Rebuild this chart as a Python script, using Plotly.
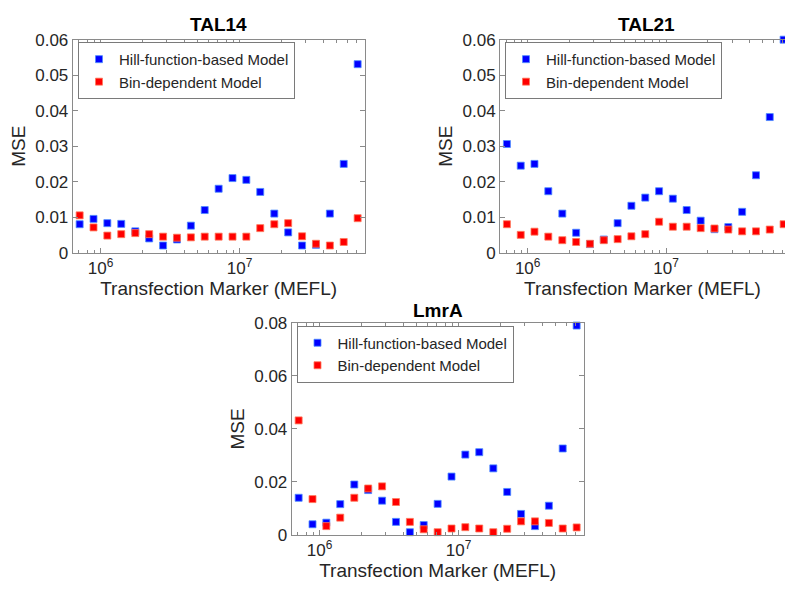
import plotly.graph_objects as go

# Bin centres of the transfection marker (MEFL), shared by all three panels
mefl = [7.08e5, 8.91e5, 1.12e6, 1.41e6, 1.78e6, 2.24e6, 2.82e6, 3.55e6, 4.47e6,
        5.62e6, 7.08e6, 8.91e6, 1.12e7, 1.41e7, 1.78e7, 2.24e7, 2.82e7, 3.55e7,
        4.47e7, 5.62e7, 7.08e7]

# TAL14
tal14_hill = [0.0080, 0.0095, 0.0083, 0.0081, 0.0060, 0.0040, 0.0020, 0.0037, 0.0076,
              0.0120, 0.0180, 0.0210, 0.0205, 0.0171, 0.0110, 0.0057, 0.0020, 0.0022,
              0.0110, 0.0250, 0.0531]
tal14_bin = [0.0105, 0.0071, 0.0048, 0.0052, 0.0055, 0.0052, 0.0045, 0.0042, 0.0043,
             0.0045, 0.0045, 0.0045, 0.0045, 0.0069, 0.0080, 0.0083, 0.0046, 0.0025,
             0.0020, 0.0030, 0.0097]

# TAL21
tal21_hill = [0.0306, 0.0245, 0.0250, 0.0173, 0.0110, 0.0056, 0.0024, 0.0037, 0.0083,
              0.0132, 0.0155, 0.0173, 0.0152, 0.0120, 0.0090, 0.0066, 0.0072, 0.0115,
              0.0218, 0.0382, 0.0600]
tal21_bin = [0.0080, 0.0050, 0.0059, 0.0045, 0.0035, 0.0030, 0.0025, 0.0035, 0.0038,
             0.0046, 0.0052, 0.0087, 0.0073, 0.0073, 0.0069, 0.0068, 0.0065, 0.0060,
             0.0060, 0.0065, 0.0080]

# LmrA
lmra_hill = [0.0140, 0.0040, 0.0046, 0.0116, 0.0190, 0.0169, 0.0129, 0.0049, 0.0010,
             0.0037, 0.0117, 0.0220, 0.0303, 0.0312, 0.0251, 0.0162, 0.0079, 0.0033,
             0.0110, 0.0326, 0.0790]
lmra_bin = [0.0432, 0.0135, 0.0033, 0.0065, 0.0140, 0.0175, 0.0183, 0.0124, 0.0049,
            0.0021, 0.0010, 0.0024, 0.0029, 0.0024, 0.0010, 0.0023, 0.0051, 0.0051,
            0.0045, 0.0024, 0.0028]

panel_titles = ["TAL14", "TAL21", "LmrA"]
series_names = ["Hill-function-based Model", "Bin-dependent Model"]

x_tickvals = [1e6, 1e7]
x_ticktext = ["10<sup>6</sup>", "10<sup>7</sup>"]
y_ticks_small = [0, 0.01, 0.02, 0.03, 0.04, 0.05, 0.06]
y_ticks_large = [0, 0.02, 0.04, 0.06, 0.08]

W, H = 785, 592
FONT = "Liberation Sans, Arial, Helvetica, sans-serif"
TEXT = "#262626"
AXIS = "#8a8a8a"
BLUE = "#0000ff"
RED = "#ff0000"


def px_x(p):
    return p / W


def px_y(p):
    return 1 - p / H


fig = go.Figure()

panels = [
    ("x", "y", "legend", tal14_hill, tal14_bin),
    ("x2", "y2", "legend2", tal21_hill, tal21_bin),
    ("x3", "y3", "legend3", lmra_hill, lmra_bin),
]
for xa, ya, lg, hill, binm in panels:
    for name, vals, col, edge in [(series_names[0], hill, BLUE, "#4d8dff"),
                                  (series_names[1], binm, RED, "#ff7a5c")]:
        fig.add_trace(go.Scatter(
            x=mefl, y=vals, mode="markers", name=name,
            xaxis=xa, yaxis=ya, legend=lg, cliponaxis=False,
            marker=dict(symbol="square", size=7, color=col,
                        line=dict(width=0.8, color=edge)),
        ))


def xaxis(domain, rng, anchor):
    return dict(
        type="log", domain=domain, range=rng, anchor=anchor,
        tickvals=x_tickvals, ticktext=x_ticktext,
        ticks="inside", ticklen=5, tickcolor=AXIS, tickwidth=1,
        showline=True, linecolor=AXIS, linewidth=1, mirror="ticks",
        showgrid=False, zeroline=False,
        minor=dict(ticks="inside", ticklen=3, tickcolor=AXIS, dtick="D1", showgrid=False),
        tickfont=dict(family=FONT, size=17, color=TEXT),
        title=dict(text="Transfection Marker (MEFL)", standoff=2,
                   font=dict(family=FONT, size=19, color=TEXT)),
    )


def yaxis(domain, rng, ticks, anchor, mirror="ticks"):
    return dict(
        domain=domain, range=rng, anchor=anchor, tickvals=ticks,
        ticks="inside", ticklen=5, tickcolor=AXIS, tickwidth=1,
        showline=True, linecolor=AXIS, linewidth=1, mirror=mirror,
        showgrid=False, zeroline=False,
        tickfont=dict(family=FONT, size=17, color=TEXT),
        title=dict(text="MSE", standoff=4, font=dict(family=FONT, size=19, color=TEXT)),
    )


legend_style = dict(
    bgcolor="white", bordercolor="#7a7a7a", borderwidth=1,
    font=dict(family=FONT, size=15, color=TEXT),
    xanchor="left", yanchor="top", tracegroupgap=0, itemwidth=30,
)

fig.update_layout(
    width=W, height=H,
    margin=dict(l=0, r=0, t=0, b=0),
    paper_bgcolor="white", plot_bgcolor="white",
    xaxis=xaxis([px_x(72.7), px_x(364.6)], [5.8, 7.9], "y"),
    yaxis=yaxis([px_y(251.7), px_y(31.7)], [0, 0.06], y_ticks_small, "x"),
    xaxis2=xaxis([px_x(500), 1.0], [5.8, 7.86], "y2"),
    yaxis2=yaxis([px_y(251.7), px_y(31.7)], [0, 0.06], y_ticks_small, "x2", mirror=False),
    xaxis3=xaxis([px_x(291.7), px_x(583.6)], [5.8, 7.9], "y3"),
    yaxis3=yaxis([px_y(543.3), px_y(324.3)], [0, 0.08], y_ticks_large, "x3"),
    legend=dict(x=px_x(78), y=px_y(34), **legend_style),
    legend2=dict(x=px_x(505), y=px_y(34), **legend_style),
    legend3=dict(x=px_x(296.5), y=px_y(327), **legend_style),
    showlegend=True,
)

# Panel titles
for txt, cx, cy in [(panel_titles[0], 218.6, 16), (panel_titles[1], 646, 16),
                    (panel_titles[2], 437.6, 311)]:
    fig.add_annotation(
        text=f"<b>{txt}</b>", xref="paper", yref="paper",
        x=px_x(cx), y=px_y(cy), xanchor="center", yanchor="middle",
        showarrow=False, font=dict(family=FONT, size=19, color="black"),
    )

fig.write_html("out.html")
